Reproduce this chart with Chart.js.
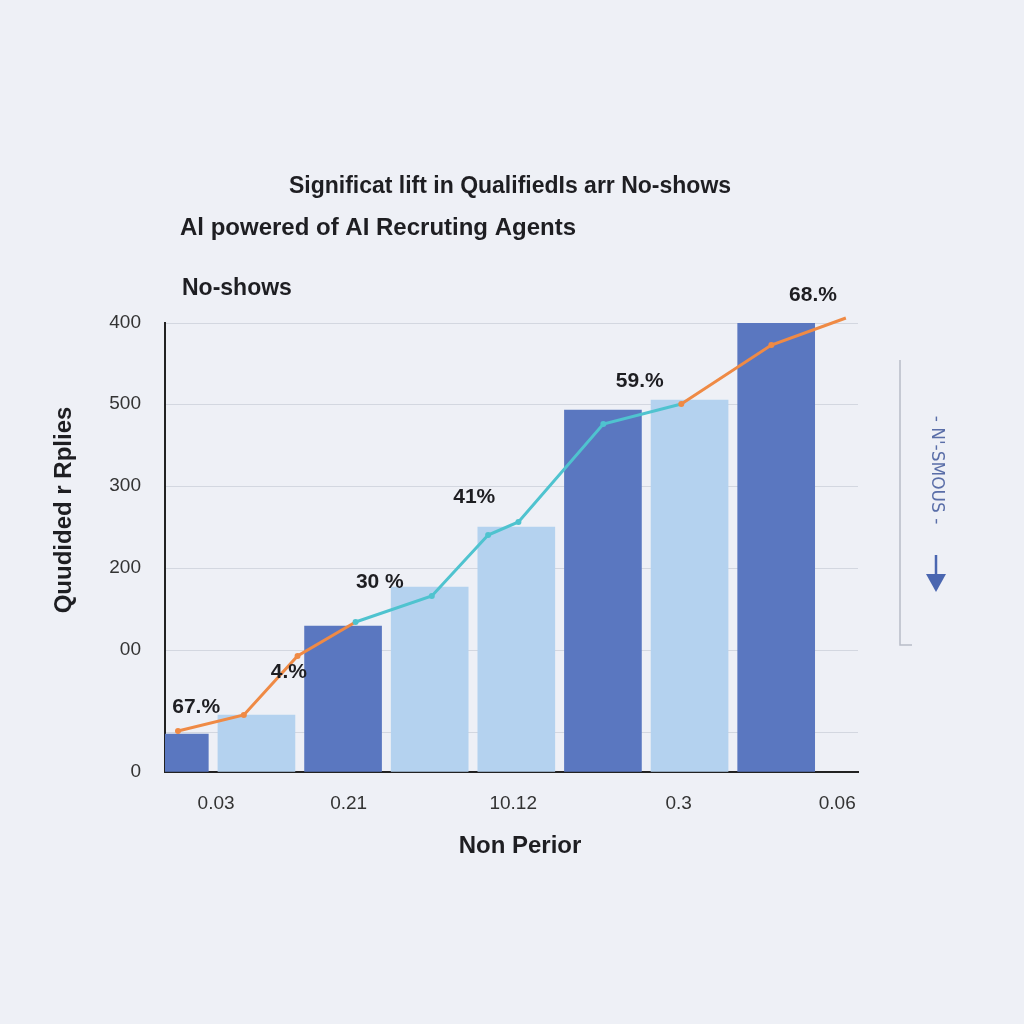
<!DOCTYPE html>
<html>
<head>
<meta charset="utf-8">
<script src="https://cdn.jsdelivr.net/npm/chart.js@4.4.0/dist/chart.umd.min.js"></script>
<style>
  html, body { margin: 0; padding: 0; background: #eef0f6; }
  #wrap { width: 1024px; height: 1024px; position: relative; }
</style>
</head>
<body>
<div id="wrap"><canvas id="chart" width="1024" height="1024"></canvas></div>
<script>
// bar data
const categories = ['a', 'b', 'c', 'd', 'e', 'f', 'g', 'h'];
const barValues = [38, 57, 146, 185, 245, 362, 372, 449];
const barShades = ['dark', 'light', 'dark', 'light', 'light', 'dark', 'light', 'dark'];

// line data (x in category units)
const lineX = [-0.35, 0.41, 1.03, 1.70, 2.58, 3.23, 3.58, 4.56, 5.46, 6.5, 7.36];
const lineY = [41, 57, 116, 150, 176, 237, 250, 348, 368, 427, 454];
const lineSegColors = ['o', 'o', 'o', 't', 't', 't', 't', 't', 'o', 'o'];

// y ticks
const yTickValues = [0, 40, 122, 204, 286, 368, 449];
const yTickLabels = ['0', '', '00', '200', '300', '500', '400'];

// x ticks
const xTickValues = [0.09, 1.62, 3.52, 5.43, 7.26];
const xTickLabels = ['0.03', '0.21', '10.12', '0.3', '0.06'];

// percent labels
const pctLabels = ['67.%', '4.%', '30 %', '41%', '59.%', '68.%'];
const pctX = [-0.14, 0.93, 1.98, 3.07, 4.98, 6.98];
const pctY = [65, 100, 190, 275, 391, 477];

const DARK = '#5a77c0';
const LIGHT = '#b4d2ef';
const ORANGE = '#ef8a45';
const TEAL = '#4fc3cf';
const FONT = '"Liberation Sans", Arial, sans-serif';

const overlay = {
  id: 'overlay',
  afterDraw(chart) {
    const ctx = chart.ctx;
    const xs = chart.scales.x2, ys = chart.scales.y;
    ctx.save();
    ctx.fillStyle = '#1e1e22';
    ctx.textBaseline = 'middle';
    ctx.font = 'bold 23px ' + FONT;
    ctx.textAlign = 'center';
    ctx.fillText('Significat lift in QualifiedIs arr No-shows', 510, 187);
    ctx.textAlign = 'left';
    ctx.font = '600 24px ' + FONT;
    ctx.fillText('Al powered of AI Recruting Agents', 180, 228);
    ctx.font = '600 23px ' + FONT;
    ctx.fillText('No-shows', 182, 289);
    ctx.textAlign = 'center';
    ctx.font = 'bold 24px ' + FONT;
    ctx.fillText('Non Perior', 520, 846);
    ctx.save();
    ctx.translate(64, 510);
    ctx.rotate(-Math.PI / 2);
    ctx.fillText('Quudided r Rplies', 0, 0);
    ctx.restore();

    // percent labels
    ctx.font = 'bold 21px ' + FONT;
    pctLabels.forEach((t, i) => {
      ctx.fillText(t, xs.getPixelForValue(pctX[i]), ys.getPixelForValue(pctY[i]));
    });

    // right side legend bracket
    ctx.strokeStyle = '#b8bcc8';
    ctx.lineWidth = 1.5;
    ctx.beginPath();
    ctx.moveTo(900, 360); ctx.lineTo(900, 645); ctx.lineTo(912, 645);
    ctx.stroke();
    ctx.save();
    ctx.translate(936, 470);
    ctx.rotate(Math.PI / 2);
    ctx.fillStyle = '#5a6ea8';
    ctx.font = '17px "DejaVu Sans", sans-serif';
    ctx.fillText('- N\'-SMOUS -', 0, 0);
    ctx.restore();
    ctx.strokeStyle = '#4a66b0';
    ctx.fillStyle = '#4a66b0';
    ctx.lineWidth = 2.5;
    ctx.beginPath();
    ctx.moveTo(936, 555); ctx.lineTo(936, 578); ctx.stroke();
    ctx.beginPath();
    ctx.moveTo(926, 574); ctx.lineTo(946, 574); ctx.lineTo(936, 592); ctx.closePath();
    ctx.fill();
    ctx.restore();
  }
};

new Chart(document.getElementById('chart'), {
  data: {
    labels: categories,
    datasets: [
      {
        type: 'bar',
        data: barValues,
        xAxisID: 'x',
        backgroundColor: barShades.map(s => s === 'dark' ? DARK : LIGHT),
        barThickness: 77,
        order: 2
      },
      {
        type: 'line',
        data: lineX.map((x, i) => ({ x, y: lineY[i] })),
        xAxisID: 'x2',
        clip: false,
        borderWidth: 3,
        borderColor: ORANGE,
        segment: {
          borderColor: c => lineSegColors[c.p0DataIndex] === 'o' ? ORANGE : TEAL
        },
        pointRadius: 3,
        pointBackgroundColor: ctx => lineSegColors[Math.min(ctx.dataIndex, lineSegColors.length - 1)] === 'o' ? ORANGE : TEAL,
        pointBorderWidth: 0,
        tension: 0,
        order: 1
      }
    ]
  },
  options: {
    responsive: false,
    animation: false,
    layout: { padding: { top: 323, right: 166, left: 0, bottom: 0 } },
    plugins: { legend: { display: false }, tooltip: { enabled: false } },
    scales: {
      x: { type: 'category', display: false },
      x2: {
        type: 'linear', position: 'bottom', min: -0.5, max: 7.5,
        afterFit: s => { s.height = 252; },
        afterBuildTicks: s => { s.ticks = xTickValues.map(v => ({ value: v })); },
        grid: { display: false },
        border: { color: '#222', width: 2 },
        ticks: {
          padding: 12,
          color: '#333',
          font: { size: 19, family: FONT },
          callback: v => xTickLabels[xTickValues.indexOf(v)]
        }
      },
      y: {
        min: 0, max: 449,
        afterFit: s => { s.width = 165; },
        afterBuildTicks: s => { s.ticks = yTickValues.map(v => ({ value: v })); },
        grid: { color: '#d3d7e0', drawTicks: false },
        border: { color: '#222', width: 2 },
        ticks: {
          padding: 24,
          color: '#333',
          font: { size: 19, family: FONT },
          callback: v => yTickLabels[yTickValues.indexOf(v)]
        }
      }
    }
  },
  plugins: [overlay]
});
</script>
</body>
</html>
